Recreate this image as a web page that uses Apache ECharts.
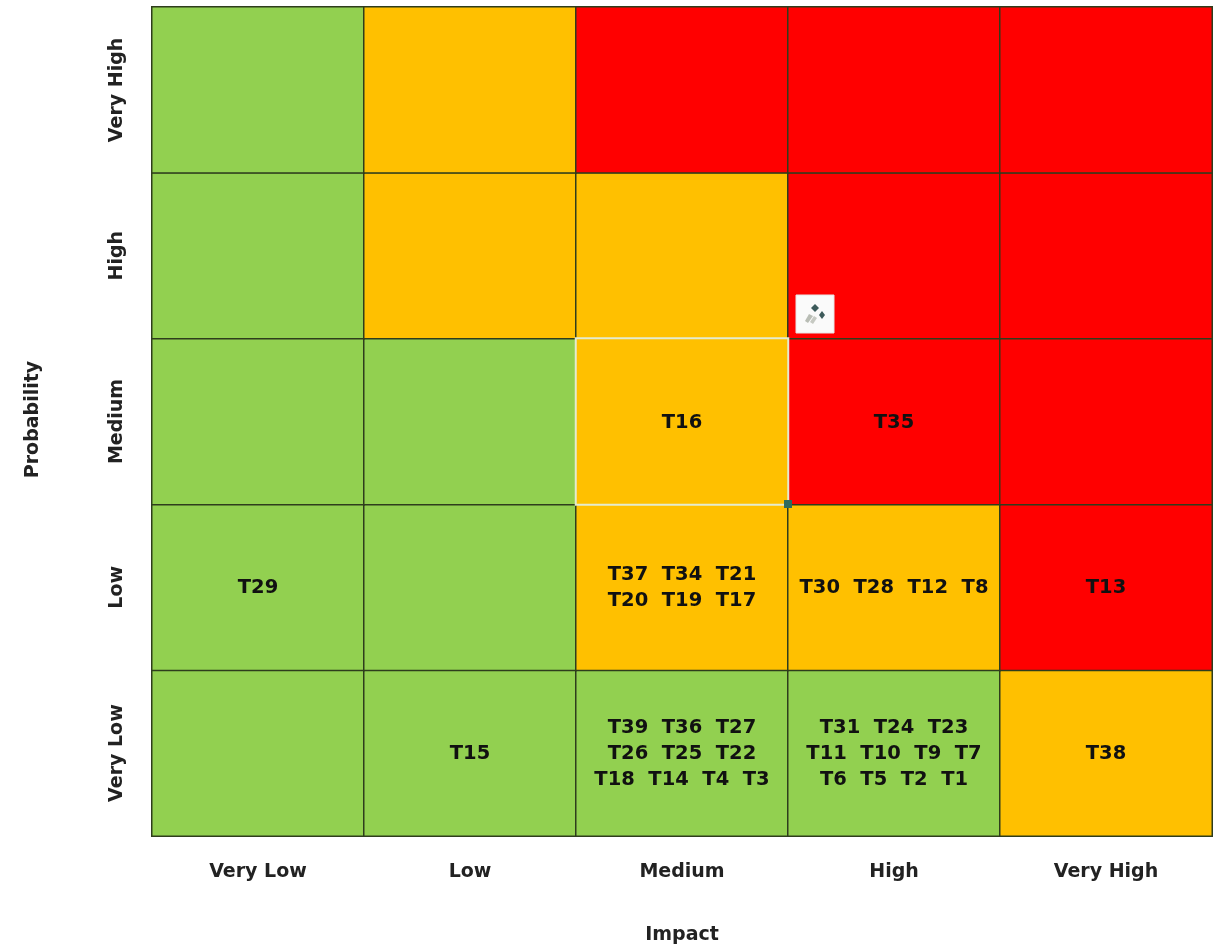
<!DOCTYPE html>
<html><head><meta charset="utf-8">
<style>html,body{margin:0;padding:0;background:#fff}#c{width:1223px;height:946px}</style>
<script src="https://cdn.jsdelivr.net/npm/echarts@6/dist/echarts.min.js"></script>
</head><body><div id="c"></div>
<script>
const impactLevels = ['Very Low','Low','Medium','High','Very High'];
const probabilityLevels = ['Very Low','Low','Medium','High','Very High'];
const impactTitle = 'Impact';
const probabilityTitle = 'Probability';
// 0 = green, 1 = amber, 2 = red; rows from Very Low upward
const riskRow0 = [0,0,0,0,1];
const riskRow1 = [0,0,1,1,2];
const riskRow2 = [0,0,1,2,2];
const riskRow3 = [0,1,1,2,2];
const riskRow4 = [0,1,2,2,2];
const threatRow0 = ['', 'T15', 'T39  T36  T27\nT26  T25  T22\nT18  T14  T4  T3', 'T31  T24  T23\nT11  T10  T9  T7\nT6  T5  T2  T1', 'T38'];
const threatRow1 = ['T29', '', 'T37  T34  T21\nT20  T19  T17', 'T30  T28  T12  T8', 'T13'];
const threatRow2 = ['', '', 'T16', 'T35', ''];
const threatRow3 = ['', '', '', '', ''];
const threatRow4 = ['', '', '', '', ''];
const riskRows = [riskRow0,riskRow1,riskRow2,riskRow3,riskRow4];
const threatRows = [threatRow0,threatRow1,threatRow2,threatRow3,threatRow4];
const riskColors = ['#92D050','#FFC000','#FF0000'];
const selectedCell = 'T16';

const font = 'DejaVu Sans';
const cells = [];
riskRows.forEach((row,y)=>row.forEach((r,x)=>{
  const sel = threatRows[y][x]===selectedCell;
  cells.push({value:[x,y,r],label:threatRows[y][x],sel:sel,
    itemStyle:{color:riskColors[r],borderColor:sel?'#E4EBD0':'#2E3D1C',borderWidth:sel?2:1.5}});
}));
cells.sort((a,b)=>a.sel-b.sel);

const chart = echarts.init(document.getElementById('c'),null,{renderer:'canvas'});
chart.setOption({
  animation:false,
  backgroundColor:'#fff',
  grid:{left:152,right:11,top:7,bottom:110,outerBoundsMode:'none'},
  xAxis:{type:'category',data:impactLevels,position:'bottom',
    name:impactTitle,nameLocation:'middle',nameGap:90,
    nameTextStyle:{fontFamily:font,fontWeight:'bold',fontSize:19,color:'#222'},
    axisLine:{show:false},axisTick:{show:false},splitLine:{show:false},
    axisLabel:{margin:27,fontFamily:font,fontWeight:'bold',fontSize:19,color:'#222'}},
  yAxis:{type:'category',data:probabilityLevels,
    name:probabilityTitle,nameLocation:'middle',nameGap:109,
    nameTextStyle:{fontFamily:font,fontWeight:'bold',fontSize:19,color:'#222',padding:[0,0,0,4]},
    axisLine:{show:false},axisTick:{show:false},splitLine:{show:false},
    axisLabel:{rotate:90,margin:35,align:'center',verticalAlign:'middle',fontFamily:font,fontWeight:'bold',fontSize:19,color:'#222'}},
  series:[{
    type:'heatmap',
    data:cells,
    label:{show:true,formatter:p=>p.data.label,fontFamily:font,fontWeight:'bold',fontSize:19.5,lineHeight:26,color:'#111',offset:[0,1]},
    emphasis:{disabled:true}
  }],
  graphic:{elements:[
    {type:'group',x:796,y:295,silent:true,z:100,children:[
      {type:'rect',z:100,shape:{x:0,y:0,width:38,height:38},style:{fill:'#FAFAFA',stroke:'#E6E6E6'}},
      {type:'polygon',z:101,shape:{points:[[19,9],[23,13],[19,17],[15,13]]},style:{fill:'#3D5A5A'}},
      {type:'polygon',z:101,shape:{points:[[26,16],[29,20],[26,24],[23,20]]},style:{fill:'#3D5A5A'}},
      {type:'polygon',z:101,shape:{points:[[13,19],[17,21],[12,28],[9,26]]},style:{fill:'#B9BDB5'}},
      {type:'polygon',z:101,shape:{points:[[18,21],[21,23],[17,29],[14,27]]},style:{fill:'#C6C9C2'}}
    ]},
    {type:'rect',x:784,y:500,silent:true,z:100,shape:{x:0,y:0,width:8,height:8},style:{fill:'#2F6B5E'}}
  ]}
});
</script></body></html>
